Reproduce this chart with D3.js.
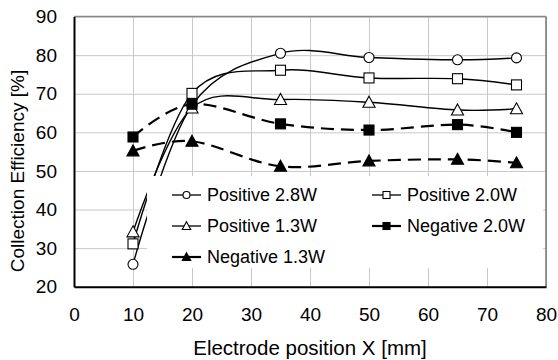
<!DOCTYPE html>
<html>
<head>
<meta charset="utf-8">
<script src="https://cdn.jsdelivr.net/npm/d3@7"></script>
<style>
  body { margin: 0; background: #fff; }
  text { font-family: "Liberation Sans", Arial, sans-serif; fill: #000; }
</style>
</head>
<body>
<script>
// chart size
var w = 558;
var h = 360;
var margin = {top: 16.6, right: 12, bottom: 73.3, left: 74};
var pw = w - margin.left - margin.right;
var ph = h - margin.top - margin.bottom;

// data
var xPos = [10, 20, 35, 50, 65, 75];
var pos28 = [25.8, 67.0, 80.5, 79.4, 78.8, 79.3];
var pos20 = [31.1, 70.1, 76.1, 74.1, 73.9, 72.3];
var pos13 = [34.2, 66.3, 68.5, 67.8, 65.8, 66.1];
var neg20 = [58.8, 67.3, 62.2, 60.6, 62.0, 60.0];
var neg13 = [55.2, 57.7, 51.2, 52.6, 53.0, 52.1];
var xTicks = [0, 10, 20, 30, 40, 50, 60, 70, 80];
var yTicks = [20, 30, 40, 50, 60, 70, 80, 90];

var series = [
  {name: "Positive 2.8W", values: pos28, marker: "circle", filled: false, dashed: false},
  {name: "Positive 2.0W", values: pos20, marker: "square", filled: false, dashed: false},
  {name: "Positive 1.3W", values: pos13, marker: "triangle", filled: false, dashed: false},
  {name: "Negative 2.0W", values: neg20, marker: "square", filled: true, dashed: true},
  {name: "Negative 1.3W", values: neg13, marker: "triangle", filled: true, dashed: true}
];
// legend order (two columns, filled row by row)
var legendOrder = ["Positive 2.8W", "Positive 2.0W", "Positive 1.3W", "Negative 2.0W", "Negative 1.3W"];

var svg = d3.select("body").append("svg")
  .attr("width", w)
  .attr("height", h);

svg.append("rect").attr("width", w).attr("height", h).attr("fill", "#fff");

var x = d3.scaleLinear().domain([0, 80]).range([0, pw]);
var y = d3.scaleLinear().domain([20, 90]).range([ph, 0]);

var g = svg.append("g")
  .attr("transform", "translate(" + margin.left + "," + margin.top + ")");

// gridlines
g.append("g")
  .attr("class", "grid")
  .call(d3.axisLeft(y).tickValues(yTicks).tickSize(-pw).tickFormat(""))
  .call(function(s){ s.select(".domain").remove(); });
g.append("g")
  .attr("class", "grid")
  .attr("transform", "translate(0," + ph + ")")
  .call(d3.axisBottom(x).tickValues(xTicks).tickSize(-ph).tickFormat(""))
  .call(function(s){ s.select(".domain").remove(); });
g.selectAll(".grid line").attr("stroke", "#c8c8c8").attr("stroke-width", 1);

// frame: gray top/right, black left/bottom
g.append("line").attr("x1", 0).attr("x2", pw).attr("y1", 0).attr("y2", 0)
  .attr("stroke", "#888").attr("stroke-width", 1.5);
g.append("line").attr("x1", pw).attr("x2", pw).attr("y1", 0).attr("y2", ph)
  .attr("stroke", "#777").attr("stroke-width", 1.5);

// legend background hides the gridlines, the lines go over it
var lg = svg.append("g");
lg.append("rect")
  .attr("x", 147).attr("y", 176)
  .attr("width", 396).attr("height", 92)
  .attr("fill", "#fff");

// axes
var yAxis = g.append("g")
  .call(d3.axisLeft(y).tickValues(yTicks).tickSize(0).tickPadding(17));
var xAxis = g.append("g")
  .attr("transform", "translate(0," + ph + ")")
  .call(d3.axisBottom(x).tickValues(xTicks).tickSize(0).tickPadding(21));
[yAxis, xAxis].forEach(function(a){
  a.select(".domain").attr("stroke", "#000").attr("stroke-width", 2);
  a.selectAll("text").attr("font-size", 19).attr("font-family", "Liberation Sans, Arial, sans-serif");
});

// smoothed lines like the spreadsheet
var line = d3.line()
  .x(function(d, i){ return x(xPos[i]); })
  .y(function(d){ return y(d); })
  .curve(d3.curveCatmullRom.alpha(0));

function drawMarker(sel, type, filled, size){
  var fill = filled ? "#000" : "#fff";
  if(type == "circle"){
    sel.append("circle").attr("r", size * 0.5)
      .attr("fill", fill).attr("stroke", "#000").attr("stroke-width", 1.1);
  } else if(type == "square"){
    sel.append("rect").attr("x", -size / 2).attr("y", -size / 2)
      .attr("width", size).attr("height", size)
      .attr("fill", fill).attr("stroke", "#000").attr("stroke-width", 1.1);
  } else {
    var s = size * 1.1;
    sel.append("path")
      .attr("d", "M0," + (-s * 0.55) + "L" + (s * 0.55) + "," + (s * 0.45) + "L" + (-s * 0.55) + "," + (s * 0.45) + "Z")
      .attr("fill", fill).attr("stroke", "#000").attr("stroke-width", 1.1);
  }
}

series.forEach(function(s){
  g.append("path")
    .datum(s.values)
    .attr("d", line)
    .attr("fill", "none")
    .attr("stroke", "#000")
    .attr("stroke-width", s.dashed ? 2.2 : 1.4)
    .attr("stroke-dasharray", s.dashed ? "13,7" : null);
});

series.forEach(function(s){
  g.selectAll(null)
    .data(s.values)
    .enter()
    .append("g")
    .attr("transform", function(d, i){ return "translate(" + x(xPos[i]) + "," + y(d) + ")"; })
    .each(function(){ drawMarker(d3.select(this), s.marker, s.filled, 10); });
});

var lgItems = svg.append("g");
legendOrder.forEach(function(name, i){
  var s = series.filter(function(d){ return d.name == name; })[0];
  var col = i % 2;
  var row = Math.floor(i / 2);
  var lx = col == 0 ? 172 : 372;
  var ly = 195 + row * 31;
  var item = lgItems.append("g").attr("transform", "translate(" + lx + "," + ly + ")");
  item.append("line")
    .attr("x1", 0).attr("x2", 29)
    .attr("stroke", "#000")
    .attr("stroke-width", s.dashed ? 2.2 : 1.3);
  var m = item.append("g").attr("transform", "translate(14.5,0)");
  drawMarker(m, s.marker, s.filled, 7);
  item.append("text")
    .attr("x", 35).attr("y", 0)
    .attr("dy", "0.36em")
    .attr("font-size", 18)
    .text(s.name);
});

// axis titles
svg.append("text")
  .attr("x", margin.left + pw / 2)
  .attr("y", 355)
  .attr("text-anchor", "middle")
  .attr("font-size", 20.5)
  .text("Electrode position X [mm]");

svg.append("text")
  .attr("transform", "translate(24,171) rotate(-90)")
  .attr("text-anchor", "middle")
  .attr("font-size", 19)
  .text("Collection Efficiency [%]");
</script>
</body>
</html>
